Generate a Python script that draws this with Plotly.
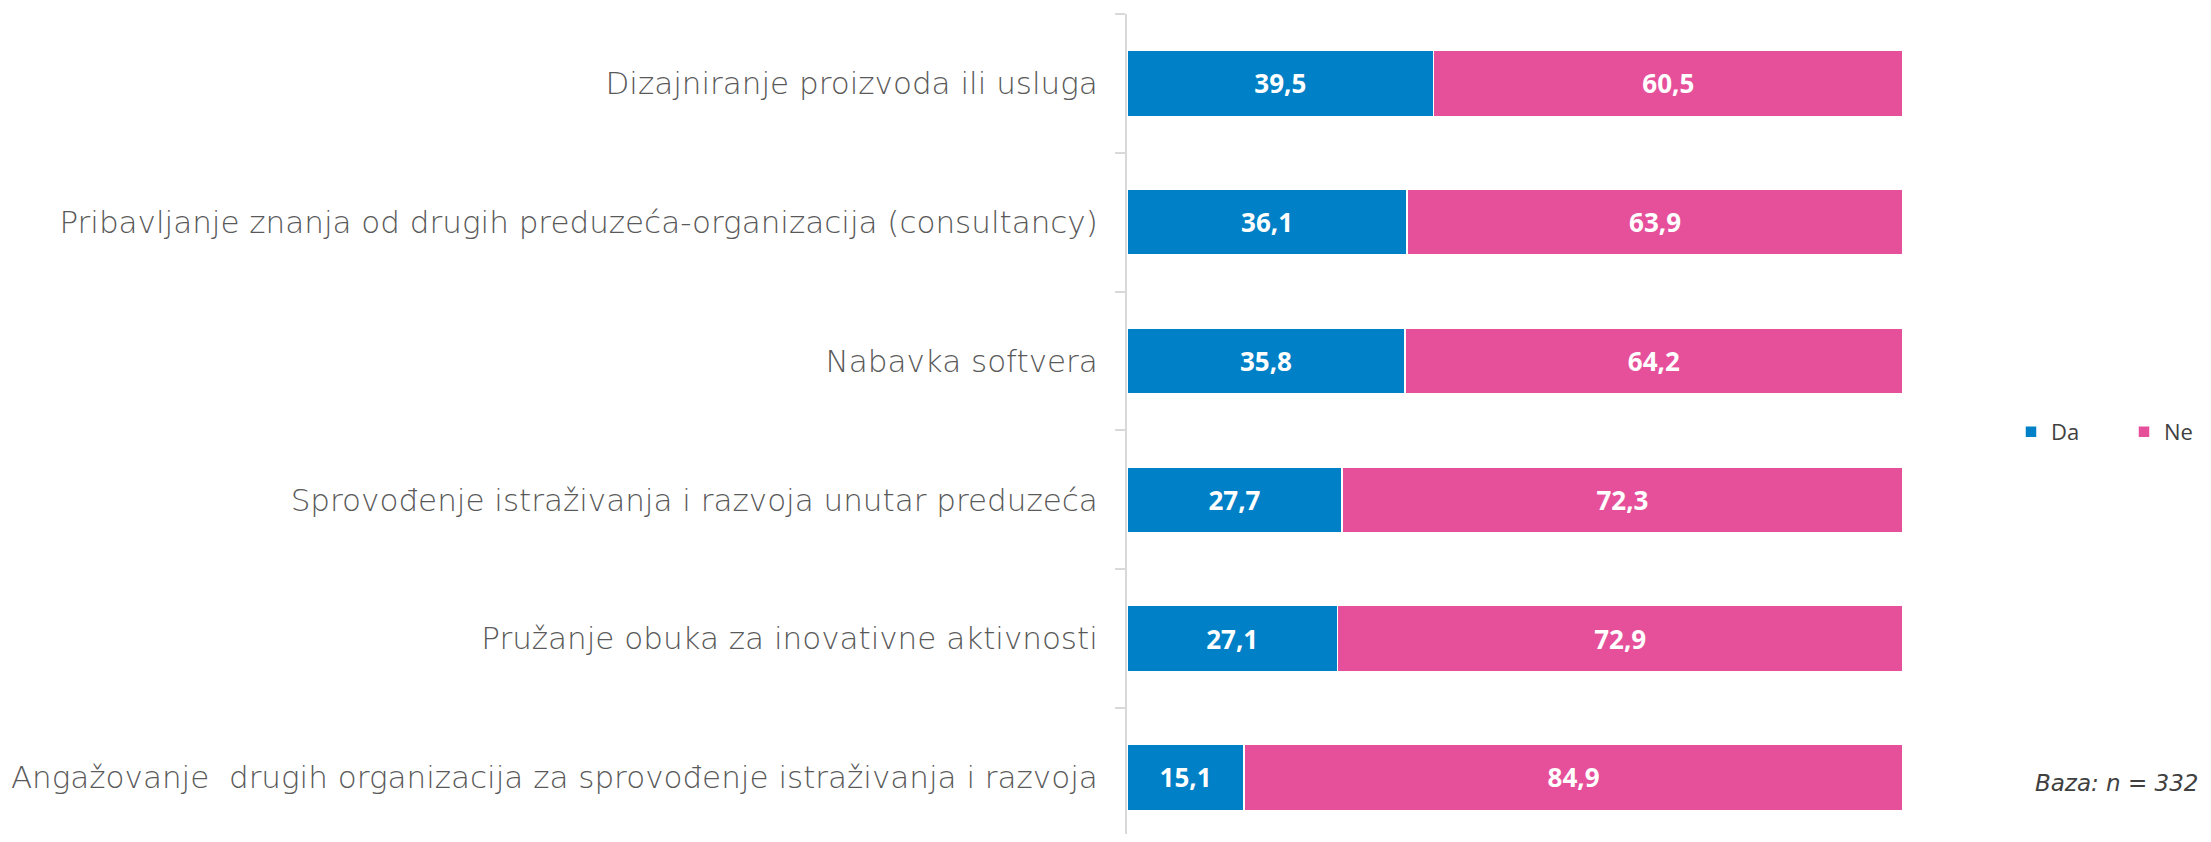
import plotly.graph_objects as go

categories = [
    "Dizajniranje proizvoda ili usluga",
    "Pribavljanje znanja od drugih preduzeća-organizacija (consultancy)",
    "Nabavka softvera",
    "Sprovođenje istraživanja i razvoja unutar preduzeća",
    "Pružanje obuka za inovativne aktivnosti",
    "Angažovanje  drugih organizacija za sprovođenje istraživanja i razvoja",
]
da = [39.5, 36.1, 35.8, 27.7, 27.1, 15.1]
ne = [60.5, 63.9, 64.2, 72.3, 72.9, 84.9]
series_names = ["Da", "Ne"]
note = "Baza: n = 332"

# the page body has an 8px margin, so the figure is 16px smaller than the window
W, H = 2195, 826
L, R, T, B = 1119, 300, 6, 0
pw = W - L - R
ph = H - T - B
cat_px = 138.8
span = ph / cat_px

fig = go.Figure()
specs = [(series_names[0], da, "#0080C6", "legend", 2003),
         (series_names[1], ne, "#E6509B", "legend2", 2116)]
for name, vals, col, lg, _ in specs:
    fig.add_trace(go.Bar(
        y=categories, x=vals, name=name, orientation="h", legend=lg,
        marker=dict(color=col, line=dict(color="white", width=1.5)),
        texttemplate="%{x:.1f}", textposition="inside", insidetextanchor="middle",
        textfont=dict(family="Open Sans", size=26, color="white", weight="bold"),
        hoverinfo="skip",
    ))

legend_common = dict(orientation="v", xanchor="left", y=(H - 424 - B) / ph, yanchor="middle",
                     font=dict(family="Open Sans", size=22, color="#404040"),
                     bgcolor="rgba(0,0,0,0)", borderwidth=0)

fig.update_layout(
    width=W, height=H, barmode="stack", bargap=0.525,
    separators=", ",
    plot_bgcolor="white", paper_bgcolor="white",
    margin=dict(l=L, r=R, t=T, b=B, autoexpand=False, pad=0),
    showlegend=True,
    legend=dict(x=(specs[0][4] - L) / pw, **legend_common),
    legend2=dict(x=(specs[1][4] - L) / pw, **legend_common),
    xaxis=dict(range=[0, 100], showticklabels=False, showgrid=False, zeroline=False,
               showline=False, fixedrange=True),
    yaxis=dict(range=[-0.5 + span, -0.5], showgrid=False, showline=True, linecolor="#D9D9D9",
               linewidth=2, ticks="outside", tickson="boundaries", ticklen=10,
               tickcolor="#D9D9D9", tickwidth=2, ticklabelstandoff=21,
               tickfont=dict(family="DejaVu Sans", size=31, color="#595959", weight=200),
               automargin=False, fixedrange=True),
    annotations=[dict(text=note, xref="paper", yref="y", x=(W - 3 - L) / pw,
                      y=categories[-1], yshift=-6, xanchor="right", yanchor="middle",
                      showarrow=False,
                      font=dict(family="DejaVu Sans", size=23, color="#404040",
                                style="italic", weight=200))],
)

fig.write_html("out.html")
